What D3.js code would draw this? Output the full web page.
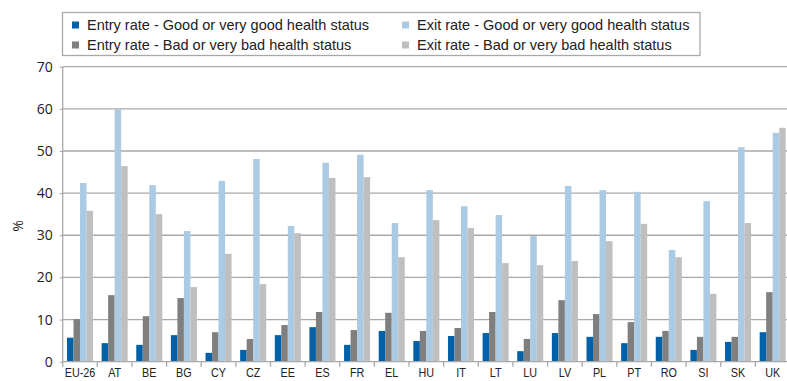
<!DOCTYPE html>
<html>
<head>
<meta charset="utf-8">
<script src="https://cdn.jsdelivr.net/npm/d3@7"></script>
<style>
  html, body { margin: 0; padding: 0; background: #fff; }
  svg { display: block; }
</style>
</head>
<body>
<svg id="chart" width="787" height="381"></svg>
<script>
const categories = ["EU-26","AT","BE","BG","CY","CZ","EE","ES","FR","EL","HU","IT","LT","LU","LV","PL","PT","RO","SI","SK","UK"];
const seriesNames = [
  "Entry rate - Good or very good health status",
  "Entry rate - Bad or very bad health status",
  "Exit rate - Good or very good health status",
  "Exit rate - Bad or very bad health status"
];
const entryGood = [5.7,4.4,4.0,6.3,2.1,2.8,6.3,8.2,4.0,7.3,4.9,6.1,6.8,2.5,6.8,5.9,4.4,5.9,2.8,4.7,7.0];
const entryBad  = [10.1,15.8,10.8,15.1,7.0,5.4,8.7,11.8,7.5,11.6,7.3,8.0,11.8,5.4,14.6,11.3,9.4,7.3,5.9,5.9,16.5];
const exitGood  = [42.4,59.9,41.9,31.0,42.9,48.1,32.2,47.2,49.1,32.9,40.7,36.9,34.8,29.8,41.7,40.7,40.3,26.5,38.1,50.9,54.3];
const exitBad   = [35.8,46.4,35.0,17.7,25.6,18.4,30.5,43.6,43.8,24.8,33.6,31.7,23.4,22.9,23.9,28.6,32.7,24.8,16.1,32.9,55.5];
const yTicks = [0,10,20,30,40,50,60,70];
const colors = ["#0061a8","#7f7f7f","#abcae3","#bfbfbf"];

const seriesValues = [entryGood, entryBad, exitGood, exitBad];

const svg = d3.select("#chart");
const plot = {left: 62.7, right: 790, top: 66.7, bottom: 361.7};

const x0 = d3.scaleBand().domain(categories).range([plot.left, plot.right]).paddingInner(0).paddingOuter(0);
const x1 = d3.scaleBand().domain(d3.range(4)).range([0, x0.bandwidth()]).paddingInner(0).paddingOuter(0.66);
const y = d3.scaleLinear().domain([0,70]).range([plot.bottom, plot.top]);

// gridlines
svg.append("g").selectAll("line").data(yTicks.filter(d => d > 0)).join("line")
  .attr("x1", plot.left).attr("x2", 787)
  .attr("y1", d => y(d)).attr("y2", d => y(d))
  .attr("stroke", "#a8a8a8").attr("stroke-width", 1.3);

// bars
const groups = svg.append("g").selectAll("g").data(categories).join("g")
  .attr("transform", d => `translate(${x0(d)},0)`);
groups.selectAll("rect").data((c, i) => seriesValues.map((s, k) => ({k, v: s[i]}))).join("rect")
  .attr("x", d => x1(d.k))
  .attr("width", x1.bandwidth())
  .attr("y", d => y(d.v))
  .attr("height", d => y(0) - y(d.v))
  .attr("fill", d => colors[d.k]);

// y axis
const yAxis = d3.axisLeft(y).tickValues(yTicks).tickSize(3).tickPadding(7).tickFormat(d3.format("d"));
const ya = svg.append("g").attr("transform", `translate(${plot.left},0)`).call(yAxis);
ya.select(".domain").attr("stroke", "#a8a8a8").attr("stroke-width", 1.3).attr("d", `M0,${plot.bottom + 5}V${plot.top}`);
ya.selectAll(".tick line").attr("stroke", "#a8a8a8");
ya.selectAll(".tick text").attr("font-family", "'Open Sans', sans-serif").attr("font-size", 14).attr("fill", "#222");

// x axis
const xa = svg.append("g").attr("transform", `translate(0,${plot.bottom})`);
xa.append("line").attr("x1", plot.left).attr("x2", 787).attr("y1", 0).attr("y2", 0)
  .attr("stroke", "#a8a8a8").attr("stroke-width", 1.3);
xa.selectAll("line.tk").data(categories.slice(1)).join("line").attr("class","tk")
  .attr("x1", d => x0(d)).attr("x2", d => x0(d)).attr("y1", 0).attr("y2", 5)
  .attr("stroke", "#a8a8a8").attr("stroke-width", 1.3);
xa.selectAll("g.lbl").data(categories).join("g").attr("class", "lbl")
  .attr("transform", d => `translate(${x0(d) + x0.bandwidth()/2},15.3) scale(0.8,1)`)
  .append("text")
  .attr("text-anchor", "middle")
  .attr("font-family", "'Liberation Sans', Arial, sans-serif")
  .attr("font-size", 13.5)
  .attr("fill", "#222")
  .text(d => d);

// y title
svg.append("text").attr("transform", "translate(23,226) rotate(-90)")
  .attr("text-anchor", "middle").attr("font-family", "'Open Sans', sans-serif")
  .attr("font-size", 14).attr("fill", "#222").text("%");

// legend
svg.append("rect").attr("x", 62.5).attr("y", 12.5).attr("width", 637.5).attr("height", 43)
  .attr("fill", "#fff").attr("stroke", "#a8a8a8").attr("stroke-width", 1.3);
const legendOrder = [0, 2, 1, 3];
const legPos = [[72, 25], [402, 25], [72, 45], [402, 45]];
legendOrder.forEach((k, i) => {
  const [lx, ly] = legPos[i];
  svg.append("rect").attr("x", lx).attr("y", ly - 3.5).attr("width", 7).attr("height", 7).attr("fill", colors[k]);
  svg.append("text").attr("x", lx + 15).attr("y", ly + 5)
    .attr("font-family", "'Liberation Sans', Arial, sans-serif")
    .attr("font-size", 14.5).attr("fill", "#222").text(seriesNames[k]);
});
</script>
</body>
</html>
